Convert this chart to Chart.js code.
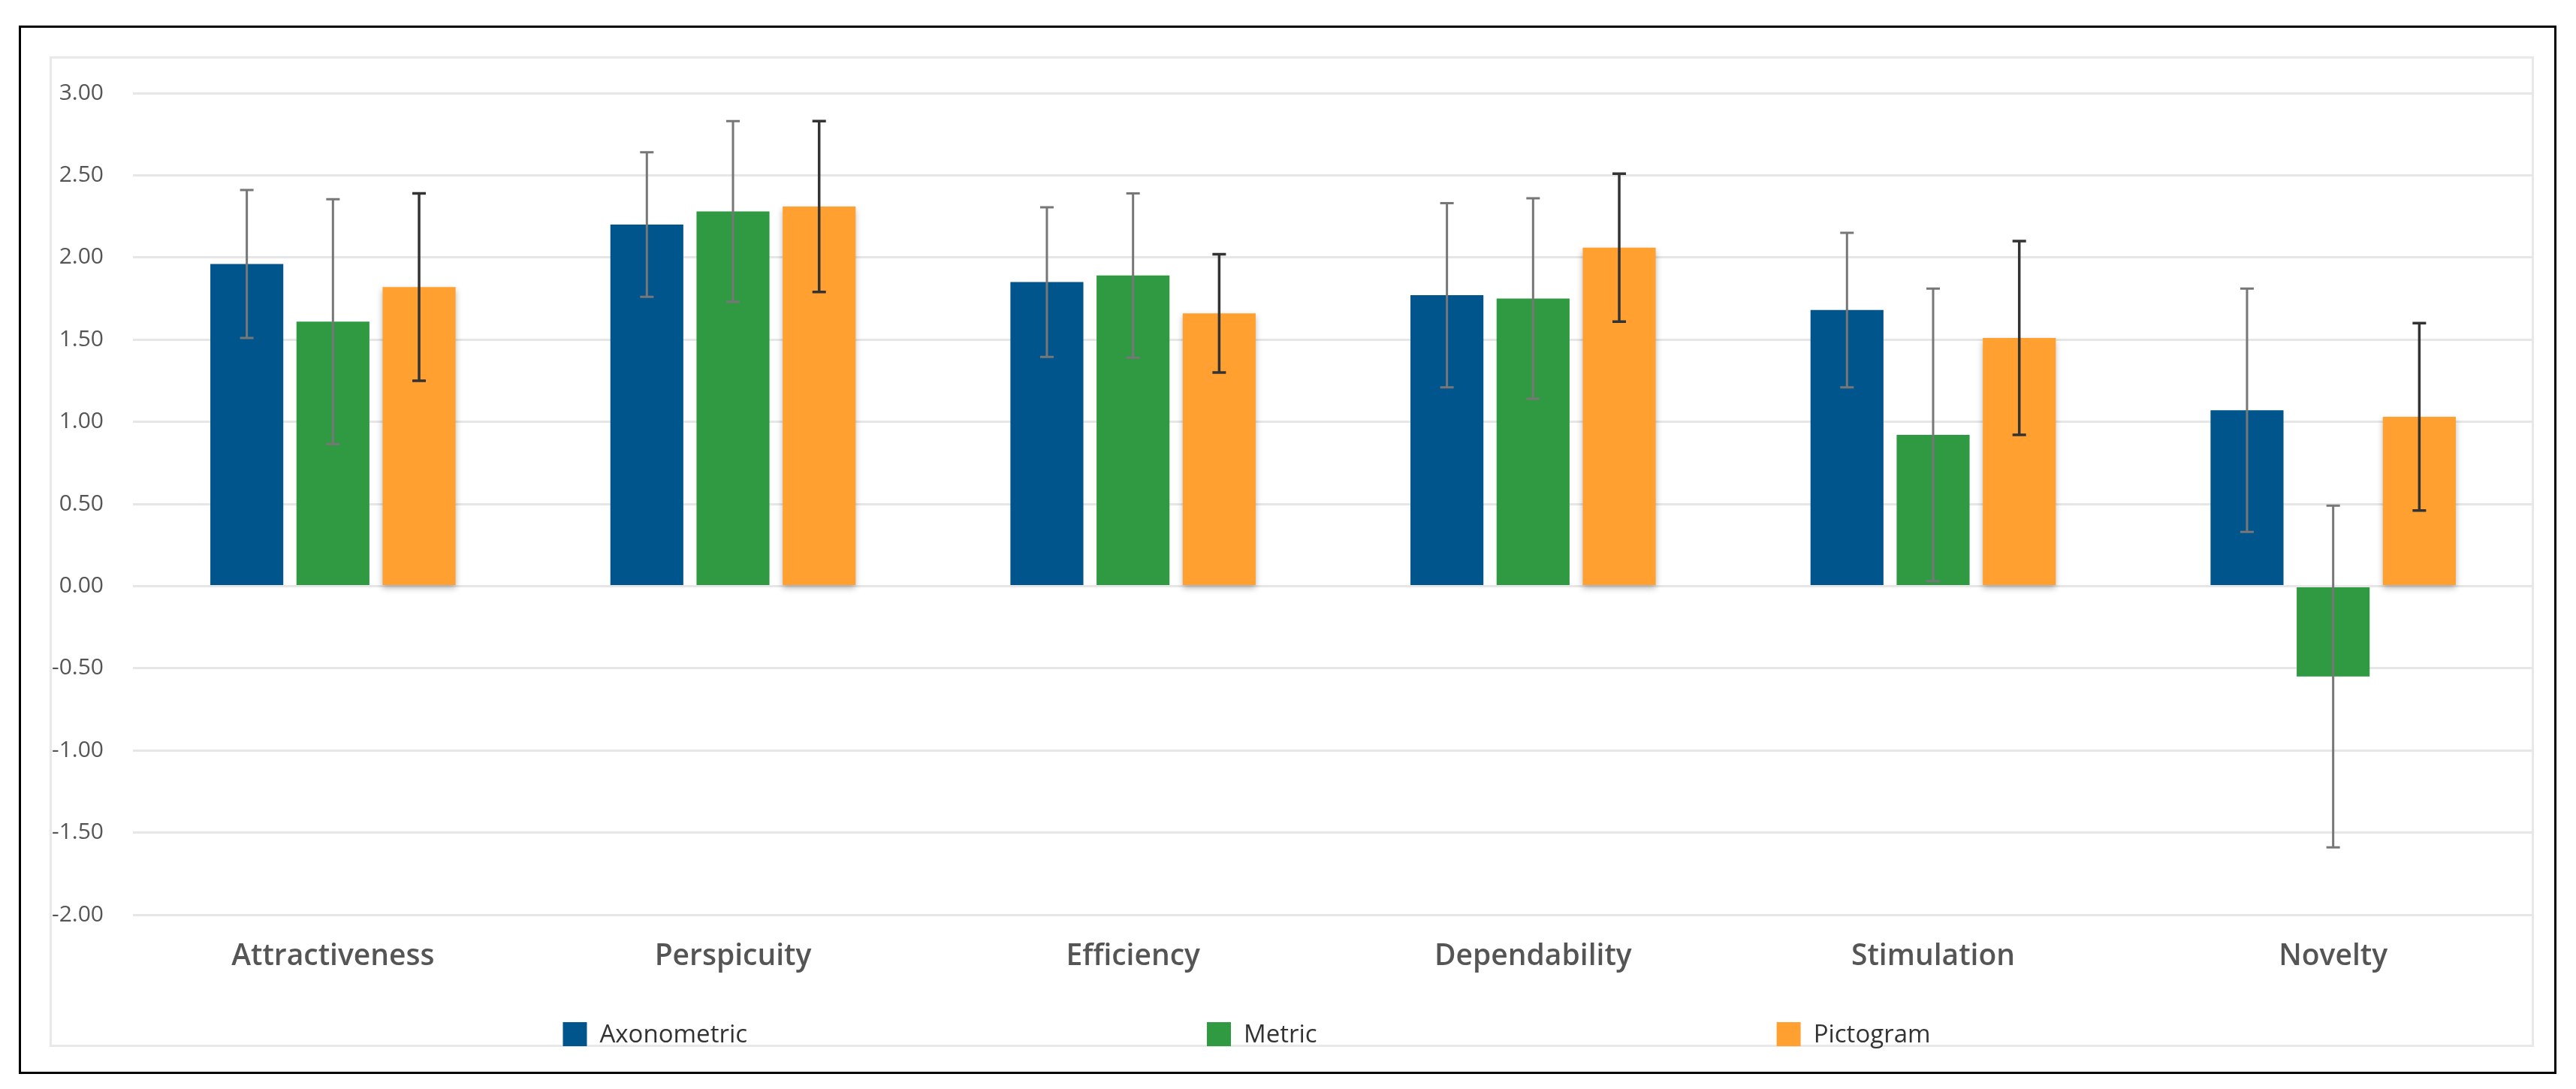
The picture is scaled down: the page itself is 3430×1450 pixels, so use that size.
<!DOCTYPE html>
<html>
<head>
<meta charset="utf-8">
<script src="https://cdn.jsdelivr.net/npm/chart.js@4.4.1/dist/chart.umd.min.js"></script>
<style>
html, body { margin: 0; padding: 0; background: #fff; overflow: hidden; }
body { width: 3430px; height: 1450px; position: relative; }
#frame { position: absolute; left: 25px; top: 34px; width: 3373px; height: 1390px; border: 3px solid #000; }
#panel { position: absolute; left: 66px; top: 75px; width: 3302px; height: 1313px; border: 3px solid #e8e8e8; }
#myChart { position: absolute; left: 0; top: 0; }
</style>
</head>
<body>
<div id="frame"></div>
<div id="panel"></div>
<canvas id="myChart" width="3430" height="1450"></canvas>
<script>
const categories = ['Attractiveness', 'Perspicuity', 'Efficiency', 'Dependability', 'Stimulation', 'Novelty'];

const axonometric = [1.96, 2.20, 1.85, 1.77, 1.68, 1.07];
const axonometricErr = [0.45, 0.44, 0.455, 0.56, 0.47, 0.74];

const metric = [1.61, 2.28, 1.89, 1.75, 0.92, -0.55];
const metricErr = [0.745, 0.55, 0.50, 0.61, 0.89, 1.04];

const pictogram = [1.82, 2.31, 1.66, 2.06, 1.51, 1.03];
const pictogramErr = [0.57, 0.52, 0.36, 0.45, 0.59, 0.57];

const yMin = -2;
const yMax = 3;
const yStep = 0.5;

// error bars drawn on top of the bars
const errorBars = {
    id: 'errorBars',
    afterDatasetsDraw(chart) {
        const ctx = chart.ctx;
        const y = chart.scales.y;
        chart.data.datasets.forEach((ds, i) => {
            const meta = chart.getDatasetMeta(i);
            ctx.save();
            ctx.strokeStyle = ds.errorColor;
            ctx.lineWidth = ds.errorWidth;
            meta.data.forEach((bar, j) => {
                const top = y.getPixelForValue(ds.data[j] + ds.errors[j]);
                const bottom = y.getPixelForValue(ds.data[j] - ds.errors[j]);
                ctx.beginPath();
                ctx.moveTo(bar.x, top);
                ctx.lineTo(bar.x, bottom);
                ctx.moveTo(bar.x - 9, top);
                ctx.lineTo(bar.x + 9, top);
                ctx.moveTo(bar.x - 9, bottom);
                ctx.lineTo(bar.x + 9, bottom);
                ctx.stroke();
            });
            ctx.restore();
        });
    }
};

// soft shadow under the orange bars
const barShadow = {
    id: 'barShadow',
    beforeDatasetDraw(chart, args) {
        if (args.index !== 2) return;
        const ctx = chart.ctx;
        ctx.save();
        ctx.shadowColor = 'rgba(0,0,0,0.28)';
        ctx.shadowBlur = 8;
        ctx.shadowOffsetY = 4;
    },
    afterDatasetDraw(chart, args) {
        if (args.index !== 2) return;
        chart.ctx.restore();
    }
};

// legend along the bottom edge, wide spacing
const bottomLegend = {
    id: 'bottomLegend',
    afterDraw(chart) {
        const ctx = chart.ctx;
        const box = 32, gap = 612, centerX = 1660, midY = 1377;
        ctx.save();
        ctx.font = '33px "Open Sans"';
        ctx.textBaseline = 'middle';
        const widths = chart.data.datasets.map(ds => box + 17 + ctx.measureText(ds.label).width);
        let x = centerX - (widths.reduce((a, b) => a + b, 0) + gap * (widths.length - 1)) / 2;
        chart.data.datasets.forEach((ds, i) => {
            ctx.fillStyle = ds.backgroundColor;
            ctx.fillRect(x, midY - box / 2, box, box);
            ctx.fillStyle = '#333';
            ctx.fillText(ds.label, x + box + 17, midY + 2);
            x += widths[i] + gap;
        });
        ctx.restore();
    }
};

const data = {
    labels: categories,
    datasets: [{
        label: 'Axonometric',
        data: axonometric,
        errors: axonometricErr,
        backgroundColor: '#00558c',
        errorColor: '#777',
        errorWidth: 3
    }, {
        label: 'Metric',
        data: metric,
        errors: metricErr,
        backgroundColor: '#2f9a41',
        errorColor: '#777',
        errorWidth: 3
    }, {
        label: 'Pictogram',
        data: pictogram,
        errors: pictogramErr,
        backgroundColor: '#ffa030',
        errorColor: '#333',
        errorWidth: 3.5
    }]
};

const config = {
    type: 'bar',
    data: data,
    plugins: [barShadow, errorBars, bottomLegend],
    options: {
        responsive: false,
        animation: false,
        devicePixelRatio: 1,
        layout: { padding: { top: 124, right: 57, bottom: 152, left: 0 } },
        datasets: { bar: { categoryPercentage: 0.646, barPercentage: 0.847 } },
        plugins: {
            legend: { display: false },
            tooltip: { enabled: false }
        },
        scales: {
            x: {
                grid: { display: false },
                border: { display: false },
                ticks: {
                    color: '#555',
                    font: { family: 'Open Sans', size: 39, weight: '600' },
                    padding: 24
                },
                afterFit(scale) { scale.height = 80; }
            },
            y: {
                min: yMin,
                max: yMax,
                grid: { color: '#e6e6e6', lineWidth: 3, drawTicks: false },
                border: { display: false },
                ticks: {
                    stepSize: yStep,
                    color: '#555',
                    font: { family: 'Open Sans', size: 30 },
                    padding: 39,
                    callback: v => v.toFixed(2)
                },
                afterFit(scale) { scale.width = 177; }
            }
        }
    }
};

new Chart(document.getElementById('myChart'), config);
</script>
</body>
</html>
